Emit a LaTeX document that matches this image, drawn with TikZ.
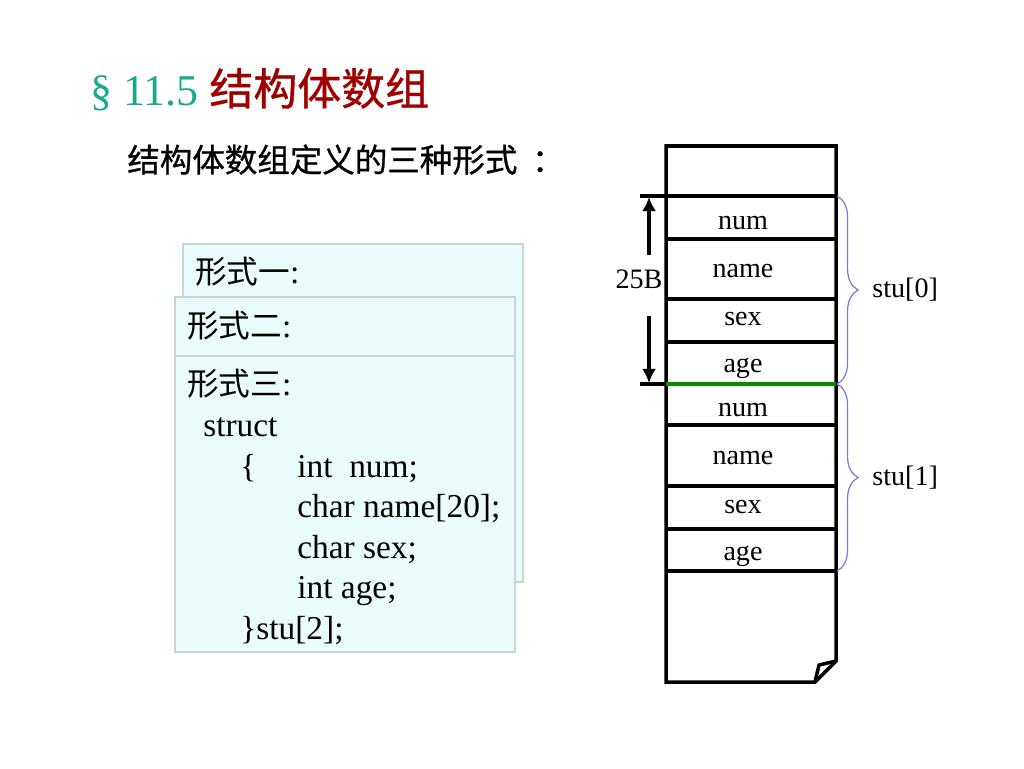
\documentclass[tikz,border=0pt]{standalone}
\usepackage{fontspec}
\setmainfont{Liberation Serif}
\newfontfamily\cjk{Noto Sans CJK SC}
\newfontfamily\cjkhei{Noto Sans CJK SC}[FakeBold = 0.8]
\usetikzlibrary{decorations.pathreplacing, arrows.meta}

\definecolor{titleteal}{RGB}{24,168,140}
\definecolor{titlered}{RGB}{158,0,0}
\definecolor{cardfill}{RGB}{234,251,251}
\definecolor{cardedge}{RGB}{198,214,214}
\definecolor{bracecol}{RGB}{120,120,230}
\definecolor{splitgreen}{RGB}{0,140,0}

\tikzset{
	card/.style = {draw = cardedge, fill = cardfill, line width = 0.8pt},
	codeline/.style = {anchor = base west, inner sep = 0, font = \fontsize{19}{23}\selectfont},
	cell/.style = {anchor = base, inner sep = 0, font = \fontsize{16}{19}\selectfont},
	memline/.style = {line width = 2pt},
	sizearrow/.style = {->, line width = 2pt},
	stubrace/.style = {draw = bracecol, line width = 0.7pt, decorate,
		decoration = {brace, amplitude = 12pt}}
}

\begin{document}
\begin{tikzpicture}[> = {Latex[length = 8pt, width = 8pt]}, x = 0.02cm, y = -0.02cm]

	% Page (pixel grid of the slide, y downwards)
	
	\useasboundingbox (0, 0) rectangle (1024, 768);

	% Title and subtitle
	
	\node [anchor = base west, inner sep = 0, font = \fontsize{25}{30}\selectfont] (title) at (90, 105)
		{\textcolor{titleteal}{§ 11.5} \textcolor{titlered}{\cjkhei 结构体数组}};
	\node [anchor = base west, inner sep = 0, font = \cjkhei\fontsize{18.5}{22}\selectfont] (subtitle) at (127, 172)
		{结构体数组定义的三种形式\kern0.45em：};
	
	% Stacked cards, the third one in front
	
	\draw [card] (183, 244) rectangle (523, 582);
	\node [codeline] (form1) at (195, 283) {{\cjk\fontsize{18}{22}\selectfont 形式一}:};
	
	\draw [card] (175, 297) rectangle (515, 640);
	\node [codeline] (form2) at (187, 337) {{\cjk\fontsize{18}{22}\selectfont 形式二}:};
	
	\draw [card] (175, 356) rectangle (515, 652);
	\node [codeline] (form3) at (187, 395) {{\cjk\fontsize{18}{22}\selectfont 形式三}:};
	\node [codeline] (kw) at (203, 436) {struct};
	\node [codeline] (open) at (240, 477) {\{};
	\node [codeline] (num) at (297, 477) {int\ \ num;};
	\node [codeline] (name) at (297, 517) {char name[20];};
	\node [codeline] (sex) at (297, 558) {char sex;};
	\node [codeline] (age) at (297, 598) {int age;};
	\node [codeline] (close) at (240, 639) {\}stu[2];};
	
	% Memory block with folded corner
	
	\draw [memline, line join = miter] (666, 146) -- (836, 146) -- (836, 661) -- (815, 682) -- (666, 682) -- cycle;
	\draw [memline, line join = round] (815, 682) -- (819, 665) -- (836, 661);
	
	\foreach \y in {196, 239, 299, 342, 425, 486, 529, 571}
		\draw [memline] (666, \y) -- (836, \y);
	\draw [line width = 2pt, splitgreen] (666, 384) -- (836, 384);
	
	% Field names
	
	\foreach \lab/\yb [count = \i] in {num/229, name/277, sex/325, age/372, num/416, name/464, sex/513, age/560}
		\node [cell] (field\i) at (743, \yb) {\lab};
	
	% Size of one element
	
	\draw [memline] (640, 196) -- (666, 196);
	\draw [memline] (640, 384) -- (666, 384);
	\coordinate (sizetop) at (649, 197);
	\coordinate (sizebot) at (649, 383);
	\node [cell] (size) at (639, 288) {25B};
	\draw [sizearrow] (649, 255) -- (sizetop);
	\draw [sizearrow] (649, 316) -- (sizebot);
	
	% Braces for the two elements
	
	\coordinate (s0top) at (837, 196);
	\coordinate (s0bot) at (837, 384);
	\coordinate (s1top) at (837, 384);
	\coordinate (s1bot) at (837, 571);
	\draw [stubrace] (s0top) -- (s0bot);
	\draw [stubrace] (s1top) -- (s1bot);
	\node [cell, anchor = base west] (stu0) at (872, 297) {stu[0]};
	\node [cell, anchor = base west] (stu1) at (872, 485) {stu[1]};

\end{tikzpicture}
\end{document}
